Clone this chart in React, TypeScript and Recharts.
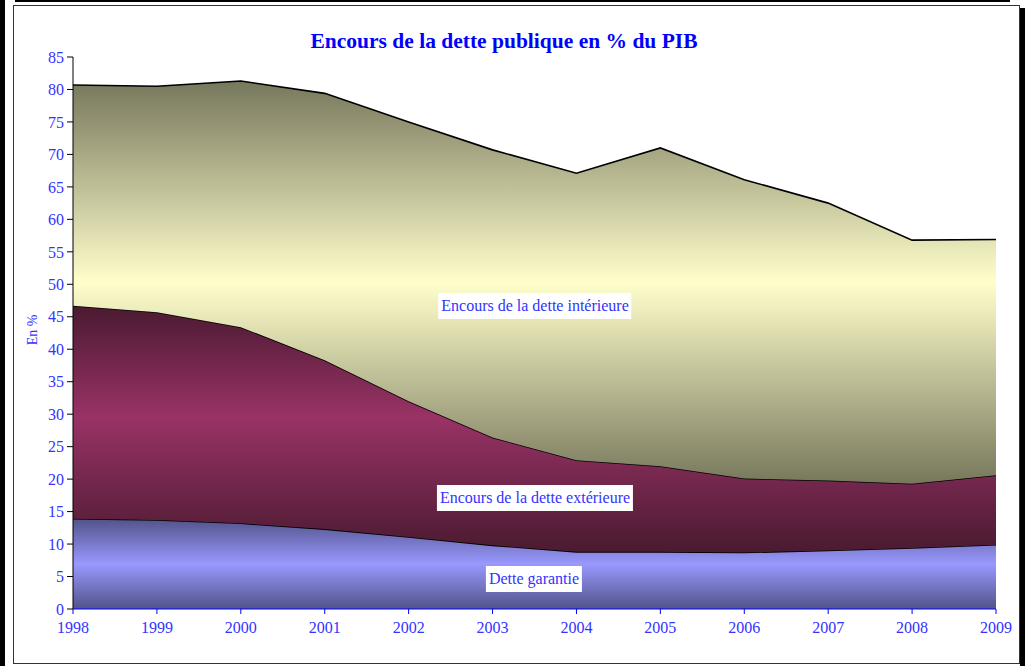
import React from "react";
import { AreaChart, Area, XAxis, YAxis } from "recharts";

const years = ["1998", "1999", "2000", "2001", "2002", "2003", "2004", "2005", "2006", "2007", "2008", "2009"];
const detteGarantie = [13.9, 13.7, 13.2, 12.3, 11.1, 9.8, 8.8, 8.8, 8.7, 9.0, 9.4, 9.9];
const detteExterieure = [32.8, 32.0, 30.2, 26.0, 20.9, 16.6, 14.1, 13.2, 11.4, 10.8, 9.9, 10.7];
const detteInterieure = [34.0, 34.8, 37.9, 41.1, 43.0, 44.3, 44.2, 49.0, 46.0, 42.7, 37.5, 36.3];
const yTicks = [0, 5, 10, 15, 20, 25, 30, 35, 40, 45, 50, 55, 60, 65, 70, 75, 80, 85];

const chartData = years.map((year, i) => ({
  year,
  garantie: detteGarantie[i],
  exterieure: detteExterieure[i],
  interieure: detteInterieure[i],
}));

const serif = "'Liberation Serif', 'Times New Roman', serif";
const tickBlue = "#3333FF";

const labelBox = (center: number, top: number, text: string) => (
  <div
    style={{
      position: "absolute",
      left: center,
      top,
      transform: "translateX(-50%)",
      background: "#fff",
      color: tickBlue,
      fontFamily: serif,
      fontSize: 16,
      padding: "3px 3px",
      lineHeight: "20px",
      whiteSpace: "nowrap",
    }}
  >
    {text}
  </div>
);

const block = (left: number, top: number, width: number, height: number, extra: React.CSSProperties = {}) => (
  <div style={{ position: "absolute", left, top, width, height, zIndex: 5, pointerEvents: "none", ...extra }} />
);

const App: React.FC = () => {
  return (
    <div style={{ position: "fixed", left: 0, top: 0, width: 1025, height: 666, background: "#fff", overflow: "hidden" }}>
      <div
        style={{
          position: "absolute",
          left: 0,
          top: 29,
          width: 1008,
          textAlign: "center",
          color: "#0000FF",
          fontFamily: serif,
          fontWeight: "bold",
          fontSize: 21.5,
        }}
      >
        Encours de la dette publique en % du PIB
      </div>

      <div
        style={{
          position: "absolute",
          left: 33,
          top: 330,
          transform: "translate(-50%, -50%) rotate(-90deg)",
          color: tickBlue,
          fontFamily: serif,
          fontSize: 14,
          whiteSpace: "nowrap",
        }}
      >
        En %
      </div>

      <div style={{ position: "absolute", left: 0, top: 0 }}>
        <AreaChart
          width={1025}
          height={666}
          data={chartData}
          margin={{ top: 57, right: 29, bottom: 27, left: 28 }}
        >
          <defs>
            <linearGradient id="gInt" x1="0" y1="0" x2="0" y2="1">
              <stop offset="0%" stopColor="#77775c" />
              <stop offset="50%" stopColor="#FFFFCC" />
              <stop offset="100%" stopColor="#77775c" />
            </linearGradient>
            <linearGradient id="gExt" x1="0" y1="0" x2="0" y2="1">
              <stop offset="0%" stopColor="#4a1a30" />
              <stop offset="45%" stopColor="#993366" />
              <stop offset="100%" stopColor="#4a1a30" />
            </linearGradient>
            <linearGradient id="gGar" x1="0" y1="0" x2="0" y2="1">
              <stop offset="0%" stopColor="#52528a" />
              <stop offset="50%" stopColor="#9999FF" />
              <stop offset="100%" stopColor="#52528a" />
            </linearGradient>
          </defs>
          <XAxis
            dataKey="year"
            stroke="#0000FF"
            tick={{ fill: tickBlue, fontFamily: serif, fontSize: 16 }}
            tickSize={5}
            tickMargin={8}
            height={30}
            interval={0}
          />
          <YAxis
            domain={[0, 85]}
            ticks={yTicks}
            stroke="#000"
            tick={{ fill: tickBlue, fontFamily: serif, fontSize: 16 }}
            tickSize={6}
            tickMargin={3}
            width={45}
            interval={0}
          />
          <Area
            type="linear"
            dataKey="garantie"
            stackId="1"
            stroke="#000"
            strokeWidth={1.6}
            fill="url(#gGar)"
            fillOpacity={1}
            isAnimationActive={false}
          />
          <Area
            type="linear"
            dataKey="exterieure"
            stackId="1"
            stroke="#000"
            strokeWidth={1.6}
            fill="url(#gExt)"
            fillOpacity={1}
            isAnimationActive={false}
          />
          <Area
            type="linear"
            dataKey="interieure"
            stackId="1"
            stroke="#000"
            strokeWidth={1.6}
            fill="url(#gInt)"
            fillOpacity={1}
            isAnimationActive={false}
          />
        </AreaChart>
      </div>

      {labelBox(535, 293, "Encours de la dette intérieure")}
      {labelBox(535, 485, "Encours de la dette extérieure")}
      {labelBox(534, 566, "Dette garantie")}

      {/* frame */}
      {block(0, 0, 5, 666, { background: "#000" })}
      {block(15, 0, 995, 2, { background: "#000" })}
      {block(1020, 8, 5, 658, { background: "#000" })}
      {block(13, 5, 1007, 659, { border: "1px solid #333", boxSizing: "border-box" })}
    </div>
  );
};

export default App;
